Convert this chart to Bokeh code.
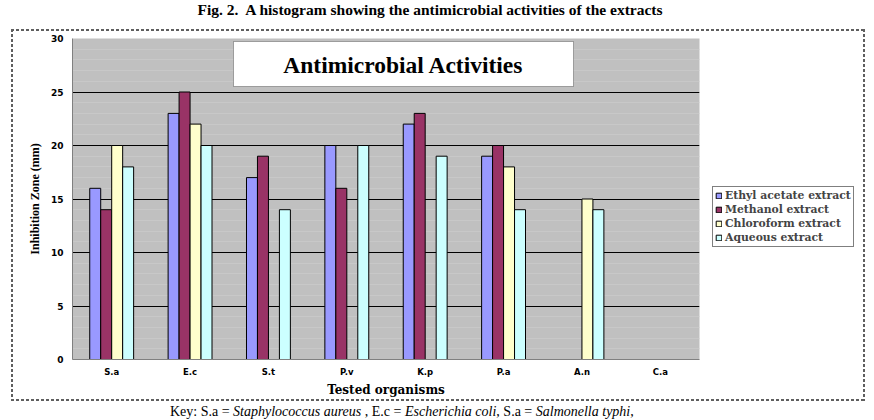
from bokeh.plotting import figure
from bokeh.layouts import column
from bokeh.models import (FactorRange, Range1d, FixedTicker, Label, BoxAnnotation,
                          Legend, LegendItem, ColumnDataSource, Div)
from bokeh.transform import dodge
from bokeh.embed import file_html
from bokeh.resources import INLINE

# Inhibition zones (mm) per tested organism and extract
organisms = ["S.a", "E.c", "S.t", "P.v", "K.p", "P.a", "A.n", "C.a"]
ethyl_acetate = [16, 23, 17, 20, 22, 19, 0, 0]
methanol = [14, 25, 19, 16, 23, 20, 0, 0]
chloroform = [20, 22, 0, 0, 0, 18, 15, 0]
aqueous = [18, 20, 14, 20, 19, 14, 14, 0]
series_names = ["Ethyl acetate extract", "Methanol extract",
                "Chloroform extract", "Aqueous extract"]
y_ticks = [0, 5, 10, 15, 20, 25, 30]

series_values = [ethyl_acetate, methanol, chloroform, aqueous]
series_colors = ["#9999FF", "#993366", "#FFFFCC", "#CCFFFF"]
offsets = [-0.21, -0.07, 0.07, 0.21]
bar_width = 0.14

p = figure(frame_width=627, frame_height=321,
           x_range=FactorRange(*organisms), y_range=Range1d(0, 30),
           output_backend="svg", toolbar_location=None,
           min_border_left=61, min_border_right=166,
           min_border_top=9, min_border_bottom=42,
           background_fill_color="#C0C0C0", border_fill_alpha=0,
           outline_line_color=None, margin=(0, 0, 0, 11))

# grid: black major lines, faint minor lines
p.xgrid.visible = False
p.ygrid.ticker = FixedTicker(ticks=[5, 10, 15, 20, 25],
                             minor_ticks=[t for t in range(1, 30) if t % 5])
p.ygrid.grid_line_color = "black"
p.ygrid.grid_line_width = 1
p.ygrid.minor_grid_line_color = "#c8c8c8"
p.ygrid.minor_grid_line_width = 1

items = []
for name, vals, color, off in zip(series_names, series_values, series_colors, offsets):
    keep = [i for i, v in enumerate(vals) if v > 0]
    src = ColumnDataSource(dict(org=[organisms[i] for i in keep],
                                val=[vals[i] for i in keep]))
    r = p.vbar(x=dodge("org", off, range=p.x_range), top="val", bottom=0,
               width=bar_width, source=src, fill_color=color,
               line_color="black", line_width=1)
    items.append(LegendItem(label=name, renderers=[r]))

# axes
p.yaxis.ticker = FixedTicker(ticks=y_ticks)
for ax in (p.xaxis, p.yaxis):
    ax.major_tick_out = 0
    ax.major_tick_in = 0
    ax.minor_tick_out = 0
    ax.minor_tick_in = 0
    ax.axis_line_color = "#808080"
    ax.major_label_text_font = "DejaVu Sans"
    ax.major_label_text_font_style = "bold"
    ax.major_label_text_color = "black"
    ax.axis_label_text_font_style = "bold"
    ax.axis_label_text_color = "black"

p.yaxis.major_label_text_font_size = "9px"
p.yaxis.major_label_standoff = 9
p.yaxis.axis_label = "Inhibition Zone (mm)"
p.yaxis.axis_label_text_font = "Liberation Serif"
p.yaxis.axis_label_text_font_size = "12px"
p.yaxis.axis_label_standoff = 6

p.xaxis.major_label_text_font_size = "8.5px"
p.xaxis.major_label_standoff = 7
p.xaxis.axis_label = "Tested organisms"
p.xaxis.axis_label_text_font = "DejaVu Serif"
p.xaxis.axis_label_text_font_size = "12px"
p.xaxis.axis_label_standoff = 3

legend = Legend(items=items, location=(13, 112),
                label_text_font="DejaVu Serif", label_text_font_style="bold",
                label_text_font_size="10.8px", glyph_width=7, glyph_height=7,
                label_height=11, spacing=1, padding=2, margin=0,
                label_standoff=3, border_line_color="black",
                border_line_width=1, background_fill_color="white",
                background_fill_alpha=1)
p.add_layout(legend, "right")

# chart title in a white box
p.add_layout(BoxAnnotation(left=222, right=562, top=12, bottom=57,
                           left_units="canvas", right_units="canvas",
                           top_units="canvas", bottom_units="canvas",
                           fill_color="white", fill_alpha=1,
                           line_color="black", line_width=1))
p.add_layout(Label(x=392, y=35, x_units="canvas", y_units="canvas",
                   text="Antimicrobial Activities", text_align="center",
                   text_baseline="middle", text_font="Liberation Serif",
                   text_font_style="bold", text_font_size="23.5px",
                   text_color="black"))

# figure caption above the chart
caption = Div(text="Fig. 2.&nbsp; A histogram showing the antimicrobial activities of the extracts",
              width=860, height=29, margin=0,
              styles={"font-family": "Liberation Serif", "font-weight": "bold",
                      "font-size": "15.5px", "line-height": "20px",
                      "text-align": "center", "color": "black"})

# key below the chart, species names in italics
key = Div(text="Key: S.a = <i>Staphylococcus aureus</i> , E.c = <i>Escherichia coli</i>, "
               "S.a = <i>Salmonella typhi</i>,",
          width=874, height=19, margin=0,
          styles={"font-family": "Liberation Serif", "font-size": "14px",
                  "line-height": "21px", "color": "black",
                  "padding-left": "170px", "white-space": "nowrap"})

# dashed box around the chart, painted as the page background
h_dash = "repeating-linear-gradient(to right, #5e5e5e 0 3px, transparent 3px 5px)"
v_dash = "repeating-linear-gradient(to bottom, #5e5e5e 0 3px, transparent 3px 5px)"
page = column(caption, p, key, spacing=0,
              styles={"background-color": "white",
                      "background-image": ", ".join([h_dash, h_dash, v_dash, v_dash]),
                      "background-repeat": "no-repeat",
                      "background-position": "11px 29px, 11px 399px, 11px 29px, 863px 29px",
                      "background-size": "854px 2px, 854px 2px, 2px 372px, 2px 372px"})
open("out.html", "w").write(file_html(page, INLINE))
